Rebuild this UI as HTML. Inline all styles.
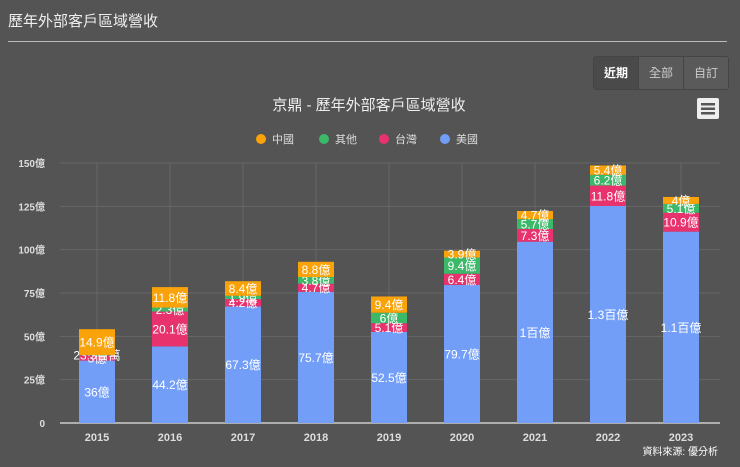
<!DOCTYPE html>
<html><head><meta charset="utf-8">
<style>
body{margin:0;width:740px;height:467px;background:#545454;font-family:"Liberation Sans","Noto Sans CJK TC",sans-serif;overflow:hidden;position:relative}
.t{position:absolute;left:8px;top:10px;color:#eee;font-size:15px}
.hr{position:absolute;left:8px;top:41px;width:719px;height:1px;background:#bbb}
.btns{position:absolute;left:593px;top:56px;display:flex;border:1px solid #444;border-radius:3px;background:#5a5a5a}
.btns div{width:44px;height:32px;line-height:32px;text-align:center;font-size:12px;color:#ccc;border-right:1px solid #444}
.btns div:first-child{background:#4a4a4a;color:#fff;font-weight:bold}
.btns div:last-child{border-right:none}
</style></head><body>
<div class="t">歷年外部客戶區域營收</div>
<div class="hr"></div>
<div class="btns">
<div>近期</div><div>全部</div><div>自訂</div></div>
<svg id="c" width="740" height="467" style="position:absolute;left:0;top:0">
<text x="369" y="110" fill="#eee" font-size="15" text-anchor="middle">京鼎 - 歷年外部客戶區域營收</text>
<g><rect x="697" y="98" width="22" height="21" rx="2" fill="#eee"/><rect x="701" y="103" width="14" height="2.5" fill="#555"/><rect x="701" y="107.5" width="14" height="2.5" fill="#555"/><rect x="701" y="112" width="14" height="2.5" fill="#555"/></g>
</svg>
<script>
const categories=["2015","2016","2017","2018","2019","2020","2021","2022","2023"];
const usa=[36,44.2,67.3,75.7,52.5,79.7,104.6,125.2,110.4];
const taiwan=[3,20.1,4.2,4.7,5.1,6.4,7.3,11.8,10.9];
const other=[0.233,2.3,1.9,3.8,6,9.4,5.7,6.2,5.1];
const china=[14.9,11.8,8.4,8.8,9.4,3.9,4.7,5.4,4];
const usaLabels=["36億","44.2億","67.3億","75.7億","52.5億","79.7億","1百億","1.3百億","1.1百億"];
const taiwanLabels=["3億","20.1億","4.2億","4.7億","5.1億","6.4億","7.3億","11.8億","10.9億"];
const otherLabels=["23.3百萬","2.3億","1.9億","3.8億","6億","9.4億","5.7億","6.2億","5.1億"];
const chinaLabels=["14.9億","11.8億","8.4億","8.8億","9.4億","3.9億","4.7億","5.4億","4億"];
const yTicks=[0,25,50,75,100,125,150];
const yTickLabels=["0","25億","50億","75億","100億","125億","150億"];
const svg=document.getElementById('c');const NS='http://www.w3.org/2000/svg';
const y=v=>423-v*(260/150);
const x=i=>97+i*73;
function mk(t,a){const e=document.createElementNS(NS,t);for(const k in a)e.setAttribute(k,a[k]);svg.appendChild(e);return e;}
yTicks.forEach((v,i)=>{
 const l=mk('line',{x1:60,x2:720,y1:y(v),y2:y(v),stroke:v==0?'#ccc':'#666','stroke-width':v==0?1.5:1});
 
 
 const t=mk('text',{x:45,y:y(v)+4,fill:'#ddd','font-size':10,'font-weight':'bold','text-anchor':'end'});t.textContent=yTickLabels[i];
 
 
});
categories.forEach((c,i)=>{
 const l=mk('line',{x1:x(i),x2:x(i),y1:163,y2:423,stroke:'#666'});
 
 
 const t=mk('text',{x:x(i),y:441,fill:'#ddd','font-size':11,'font-weight':'bold','text-anchor':'middle'});t.textContent=c;
 
 
});
const series=[["usa",usa,usaLabels,"#729ef8"],["taiwan",taiwan,taiwanLabels,"#e8326e"],["other",other,otherLabels,"#3cb869"],["china",china,chinaLabels,"#f9a20a"]];
categories.forEach((c,i)=>{
 let base=0;
 series.forEach(s=>{
  const v=s[1][i];const y0=y(base),y1=y(base+v);
  const r=mk('rect',{x:x(i)-18,y:y1,width:36,height:y0-y1,fill:s[3]});
  
  
  const t=mk('text',{x:x(i),y:(y0+y1)/2+4.5,fill:'#fff','font-size':12,'text-anchor':'middle'});t.textContent=s[2][i];
  
  
  base+=v;
 });
});
const leg=[["中國","#f9a20a",261],["其他","#3cb869",324],["台灣","#e8326e",384],["美國","#729ef8",445]];
leg.forEach(L=>{
 const g=mk('g',{});
 
 
 const ci=document.createElementNS(NS,'circle');ci.setAttribute('cx',L[2]);ci.setAttribute('cy',139);ci.setAttribute('r',5);ci.setAttribute('fill',L[1]);g.appendChild(ci);
 const t=document.createElementNS(NS,'text');t.setAttribute('x',L[2]+11);t.setAttribute('y',143);t.setAttribute('fill','#ddd');t.setAttribute('font-size',11);t.textContent=L[0];g.appendChild(t);
});
const src=mk('text',{x:718,y:455,fill:'#fff','font-size':10,'text-anchor':'end'});src.textContent='資料來源: 優分析';


</script>
</body></html>
